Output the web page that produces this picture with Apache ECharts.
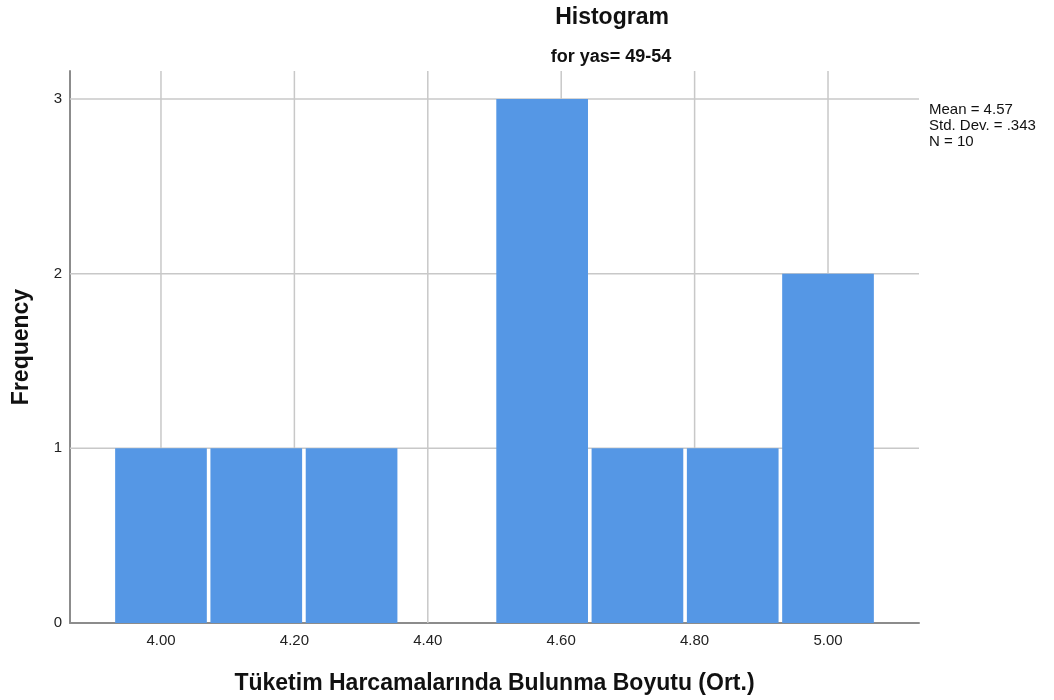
<!DOCTYPE html>
<html>
<head>
<meta charset="utf-8">
<script src="https://cdn.jsdelivr.net/npm/echarts@6/dist/echarts.min.js"></script>
<style>html,body{margin:0;padding:0;background:#fff}#c{width:1054px;height:700px}</style>
</head>
<body>
<div id="c"></div>
<script>
const binStarts = [3.928571, 4.071429, 4.214286, 4.357143, 4.5, 4.642857, 4.785714, 4.928571];
const binWidth = 0.142857;
const counts = [1, 1, 1, 0, 3, 1, 1, 2];
const xTicks = [4.0, 4.2, 4.4, 4.6, 4.8, 5.0];
const yTicks = [0, 1, 2, 3];
const statsLines = ['Mean = 4.57', 'Std. Dev. = .343', 'N = 10'];

const FONT = '"Liberation Sans", Arial, sans-serif';
const chart = echarts.init(document.getElementById('c'), null, {renderer: 'canvas'});

const data = binStarts.map((s, i) => [s, s + binWidth, counts[i]]);

chart.setOption({
  animation: false,
  backgroundColor: '#ffffff',
  title: [
    {text: 'Histogram', left: 607, top: 1, textAlign: 'center',
     textStyle: {fontFamily: FONT, fontSize: 23, fontWeight: 'bold', color: '#111'}},
    {text: 'for yas= 49-54', left: 606, top: 43, textAlign: 'center',
     textStyle: {fontFamily: FONT, fontSize: 18, fontWeight: 'bold', color: '#111'}}
  ],
  grid: {left: 70, right: 135, top: 71, bottom: 76, containLabel: false},
  xAxis: {
    type: 'value', min: 3.8636, max: 5.1364,
    name: 'Tüketim Harcamalarında Bulunma Boyutu (Ort.)',
    nameLocation: 'middle', nameGap: 49,
    nameTextStyle: {fontFamily: FONT, fontSize: 23, fontWeight: 'bold', color: '#111'},
    axisLine: {show: true, onZero: false, lineStyle: {color: '#8c8c8c', width: 2}},
    axisTick: {show: false},
    splitLine: {show: false},
    axisLabel: {show: false}
  },
  yAxis: {
    type: 'value', min: 0, max: 3.16, interval: 1,
    name: 'Frequency', nameLocation: 'middle', nameGap: 37,
    nameTextStyle: {fontFamily: FONT, fontSize: 23, fontWeight: 'bold', color: '#111'},
    axisLine: {show: true, lineStyle: {color: '#8c8c8c', width: 2}},
    axisTick: {show: false},
    axisLabel: {show: false},
    splitLine: {show: false}
  },
  series: [
    {
      type: 'custom', z: 1, silent: true,
      data: xTicks.map(v => [v]),
      renderItem: function (params, api) {
        const top = api.coord([api.value(0), 3.16]);
        const bot = api.coord([api.value(0), 0]);
        return {type: 'group', children: [
          {type: 'line', shape: {x1: top[0], y1: top[1], x2: bot[0], y2: bot[1]},
           style: {stroke: '#c8c8c8', lineWidth: 1.5}},
          {type: 'text', style: {text: xTicks[params.dataIndex].toFixed(2), x: bot[0], y: bot[1] + 10,
            textAlign: 'center', textVerticalAlign: 'top', font: '15px ' + FONT, fill: '#222'}}
        ]};
      }
    },
    {
      type: 'custom', z: 1, silent: true,
      data: yTicks.map(v => [v]),
      renderItem: function (params, api) {
        const l = api.coord([3.8636, api.value(0)]);
        const r = api.coord([5.1364, api.value(0)]);
        const children = [
          {type: 'text', style: {text: String(yTicks[params.dataIndex]), x: l[0] - 8, y: l[1],
            textAlign: 'right', textVerticalAlign: 'middle', font: '15px ' + FONT, fill: '#222'}}
        ];
        if (api.value(0) > 0) {
          children.unshift({type: 'line', shape: {x1: l[0], y1: l[1], x2: r[0], y2: r[1]},
            style: {stroke: '#c8c8c8', lineWidth: 1.5}});
        }
        return {type: 'group', children: children};
      }
    },
    {
      type: 'custom', z: 2,
      data: data,
      renderItem: function (params, api) {
        if (api.value(2) <= 0) return null;
        const p0 = api.coord([api.value(0), api.value(2)]);
        const p1 = api.coord([api.value(1), 0]);
        return {type: 'rect',
          shape: {x: p0[0] + 1.8, y: p0[1], width: p1[0] - p0[0] - 3.6, height: p1[1] - p0[1]},
          style: {fill: '#5597e5'}};
      }
    }
  ],
  graphic: statsLines.map((t, i) => ({
    type: 'text', left: 929, top: 102 + i * 16,
    style: {text: t, font: '15px ' + FONT, fill: '#111'}
  }))
});
</script>
</body>
</html>
